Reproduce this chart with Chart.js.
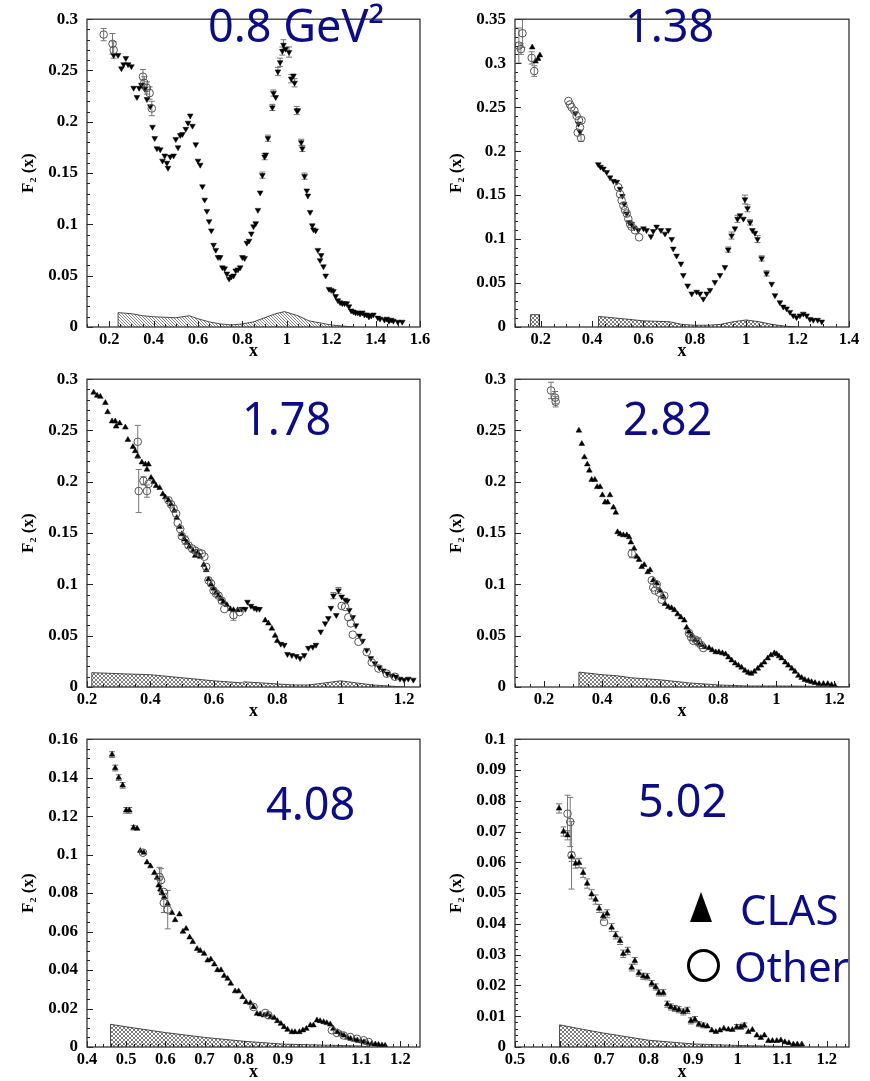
<!DOCTYPE html>
<html><head><meta charset="utf-8">
<script src="https://cdn.jsdelivr.net/npm/chart.js@4.4.0/dist/chart.umd.min.js"></script>
<style>
html,body{margin:0;padding:0;background:#fff;width:870px;height:1081px;overflow:hidden;position:relative;}
.pane{position:absolute;}
.lbl{position:absolute;font-family:'Noto Sans';color:#0c0c84;white-space:nowrap;line-height:45px;font-size:45px;}
.lg{font-size:42px;line-height:42px;}
</style></head><body>
<div class="pane" style="left:0;top:0"><canvas id="c1" width="435" height="360"></canvas></div>
<div class="pane" style="left:435px;top:0"><canvas id="c2" width="435" height="360"></canvas></div>
<div class="pane" style="left:0;top:360px"><canvas id="c3" width="435" height="360"></canvas></div>
<div class="pane" style="left:435px;top:360px"><canvas id="c4" width="435" height="360"></canvas></div>
<div class="pane" style="left:0;top:720px"><canvas id="c5" width="435" height="361"></canvas></div>
<div class="pane" style="left:435px;top:720px"><canvas id="c6" width="435" height="361"></canvas></div>

<div class="lbl" style="left:208px;top:2px">0.8 GeV²</div>
<div class="lbl" style="left:625px;top:2px">1.38</div>
<div class="lbl" style="left:242px;top:395px">1.78</div>
<div class="lbl" style="left:623px;top:395px">2.82</div>
<div class="lbl" style="left:266px;top:780px">4.08</div>
<div class="lbl" style="left:638px;top:777px">5.02</div>
<div style="position:absolute;left:690px;top:892px;width:0;height:0;border-left:11.5px solid transparent;border-right:11.5px solid transparent;border-bottom:30px solid #000;"></div>
<div class="lbl lg" style="left:740px;top:888px">CLAS</div>
<div style="position:absolute;left:687px;top:949px;width:33px;height:33px;box-sizing:border-box;border:3.5px solid #000;border-radius:50%;"></div>
<div class="lbl lg" style="left:734px;top:945px">Other</div>

<script>
// ---------------- DATA ----------------
// Q2 = 0.8 GeV2
const q1Clas = [[0.22,0.265],[0.24,0.265],[0.255,0.252],[0.265,0.256],[0.275,0.262],[0.285,0.256],[0.30,0.254],[0.31,0.233],[0.325,0.224],[0.335,0.233],[0.345,0.236],[0.36,0.232],[0.37,0.222],[0.385,0.215],[0.395,0.195],[0.405,0.184],[0.415,0.174],[0.43,0.173],[0.44,0.162],[0.45,0.167],[0.46,0.160],[0.465,0.155],[0.475,0.166],[0.49,0.167],[0.50,0.183],[0.51,0.175],[0.52,0.187],[0.53,0.188],[0.545,0.193],[0.555,0.199],[0.565,0.206],[0.575,0.196],[0.59,0.178],[0.60,0.162],[0.61,0.158],[0.62,0.137],[0.63,0.124],[0.64,0.113],[0.65,0.103],[0.66,0.094],[0.67,0.080],[0.68,0.075],[0.69,0.068],[0.70,0.068],[0.71,0.058],[0.72,0.057],[0.73,0.052],[0.74,0.047],[0.75,0.049],[0.76,0.050],[0.77,0.055],[0.78,0.056],[0.79,0.058],[0.80,0.068],[0.81,0.067],[0.82,0.082],[0.83,0.084],[0.84,0.091],[0.85,0.098],[0.86,0.101],[0.87,0.114],[0.88,0.131],[0.89,0.148,0.003],[0.90,0.166,0.003],[0.905,0.168],[0.915,0.184,0.003],[0.935,0.214,0.003],[0.94,0.228,0.003],[0.95,0.224],[0.96,0.249,0.004],[0.97,0.258,0.004],[0.98,0.269,0.004],[0.985,0.275,0.005],[0.995,0.271],[1.01,0.268,0.005],[1.02,0.242,0.004],[1.03,0.245],[1.035,0.238,0.004],[1.045,0.211,0.004],[1.05,0.211],[1.065,0.180,0.003],[1.07,0.174,0.003],[1.08,0.147,0.003],[1.09,0.133],[1.095,0.128],[1.105,0.112],[1.115,0.099],[1.12,0.095],[1.13,0.094],[1.14,0.075],[1.15,0.065],[1.155,0.070],[1.165,0.059],[1.175,0.050],[1.19,0.037],[1.20,0.036],[1.21,0.035],[1.22,0.030],[1.23,0.026],[1.24,0.024],[1.25,0.023],[1.26,0.023],[1.27,0.023],[1.28,0.020],[1.29,0.016],[1.30,0.015],[1.31,0.014],[1.32,0.014],[1.33,0.013],[1.34,0.014],[1.35,0.012],[1.36,0.012],[1.37,0.010],[1.38,0.011],[1.39,0.012],[1.41,0.009],[1.42,0.008],[1.44,0.007],[1.45,0.008],[1.46,0.006],[1.47,0.007],[1.48,0.006],[1.50,0.005],[1.52,0.005]];
const q1Other = [[0.175,0.285,0.006],[0.215,0.276,0.010],[0.22,0.270,0.008],[0.352,0.244,0.007],[0.358,0.238,0.006],[0.37,0.233,0.006],[0.382,0.228,0.006],[0.392,0.213,0.007]];
const q1Sys = [[0.24,0.014],[0.3,0.013],[0.35,0.011],[0.4,0.010],[0.5,0.009],[0.56,0.011],[0.6,0.008],[0.65,0.005],[0.7,0.003],[0.75,0.002],[0.8,0.003],[0.85,0.005],[0.9,0.009],[0.95,0.013],[0.99,0.015],[1.05,0.011],[1.1,0.006],[1.15,0.004],[1.2,0.002],[1.25,0.001],[1.3,0]];
const q1XTicks = [0.2,0.4,0.6,0.8,1,1.2,1.4,1.6];
const q1YTicks = [0,0.05,0.1,0.15,0.2,0.25,0.3];

// Q2 = 1.38
const q2ClasUp = [[0.167,0.318],[0.18,0.302],[0.19,0.305],[0.197,0.309]];
const q2ClasDown = [[0.335,0.243],[0.347,0.231],[0.353,0.222],[0.424,0.185],[0.433,0.182],[0.444,0.180],[0.457,0.176],[0.47,0.170],[0.483,0.166],[0.496,0.165],[0.509,0.157],[0.518,0.149],[0.525,0.140],[0.535,0.129],[0.544,0.119],[0.554,0.117],[0.564,0.113],[0.58,0.110],[0.6,0.112],[0.612,0.110],[0.629,0.103],[0.638,0.109],[0.651,0.114],[0.668,0.110],[0.684,0.106],[0.697,0.110],[0.71,0.100],[0.716,0.089],[0.729,0.081],[0.746,0.072],[0.755,0.059],[0.772,0.047],[0.788,0.038],[0.807,0.040],[0.82,0.038],[0.833,0.032],[0.846,0.038],[0.859,0.042],[0.878,0.051],[0.898,0.059],[0.917,0.068],[0.93,0.088,0.003],[0.943,0.104,0.004],[0.956,0.112],[0.966,0.123,0.004],[0.976,0.127],[0.989,0.123],[0.995,0.145,0.005],[1.005,0.135,0.004],[1.015,0.119,0.003],[1.024,0.110],[1.034,0.107],[1.044,0.100,0.004],[1.06,0.078,0.003],[1.079,0.061,0.003],[1.099,0.049],[1.112,0.036],[1.131,0.028],[1.144,0.023],[1.157,0.021],[1.17,0.017],[1.183,0.013],[1.196,0.011],[1.209,0.013],[1.222,0.015],[1.235,0.013],[1.248,0.009],[1.261,0.008],[1.278,0.008],[1.294,0.006]];
const q2Other = [[0.115,0.320,0.020],[0.123,0.316,0.006],[0.129,0.334,0.016],[0.165,0.306,0.007],[0.175,0.291,0.006],[0.308,0.257],[0.314,0.253],[0.32,0.250],[0.331,0.246],[0.34,0.240],[0.349,0.235],[0.359,0.235],[0.353,0.227],[0.357,0.215,0.004],[0.344,0.221],[0.502,0.159],[0.509,0.151],[0.515,0.144],[0.522,0.138],[0.528,0.133],[0.535,0.129],[0.541,0.123],[0.548,0.117],[0.554,0.114],[0.567,0.110],[0.583,0.102]];
const q2Sys = [[0.425,0.012],[0.5,0.010],[0.6,0.007],[0.7,0.006],[0.75,0.003],[0.8,0.002],[0.85,0.002],[0.9,0.003],[0.95,0.006],[1.0,0.008],[1.05,0.006],[1.1,0.003],[1.15,0.001],[1.2,0]];
const q2SysLow = [[0.16,0.014],[0.195,0.014]];
const q2XTicks = [0.2,0.4,0.6,0.8,1,1.2,1.4];
const q2YTicks = [0,0.05,0.1,0.15,0.2,0.25,0.3,0.35];

// Q2 = 1.78
const q3ClasUp = [[0.221,0.287],[0.232,0.284],[0.242,0.283],[0.258,0.277],[0.265,0.268],[0.279,0.259],[0.289,0.259],[0.292,0.254],[0.303,0.257],[0.321,0.253],[0.329,0.241],[0.345,0.234],[0.352,0.230],[0.36,0.225],[0.373,0.219],[0.384,0.217],[0.389,0.212],[0.394,0.217],[0.402,0.204],[0.41,0.200],[0.418,0.196],[0.429,0.194],[0.439,0.188],[0.447,0.185],[0.457,0.182],[0.465,0.178],[0.475,0.172],[0.483,0.165],[0.492,0.156],[0.499,0.149],[0.507,0.144],[0.515,0.141],[0.523,0.137],[0.534,0.133],[0.541,0.128],[0.549,0.131],[0.557,0.127],[0.568,0.119],[0.576,0.114],[0.583,0.105],[0.591,0.100],[0.599,0.096],[0.607,0.092],[0.615,0.089],[0.622,0.086],[0.63,0.083],[0.641,0.080],[0.652,0.076],[0.662,0.075],[0.675,0.075],[0.762,0.065],[0.772,0.062],[0.783,0.057],[0.793,0.050],[0.80,0.045]];
const q3ClasDown = [[0.688,0.076],[0.699,0.076],[0.706,0.083],[0.717,0.079],[0.727,0.077],[0.735,0.076],[0.744,0.076],[0.811,0.042],[0.822,0.041],[0.832,0.032],[0.846,0.031],[0.86,0.030],[0.872,0.028],[0.885,0.031],[0.898,0.038],[0.912,0.039],[0.922,0.041],[0.937,0.054],[0.951,0.062],[0.961,0.067],[0.969,0.077],[0.977,0.089,0.003],[0.986,0.070],[0.993,0.094,0.003],[1.003,0.088],[1.014,0.085],[1.021,0.084],[1.027,0.075],[1.038,0.068],[1.048,0.060],[1.059,0.050],[1.069,0.045],[1.082,0.036],[1.095,0.028],[1.108,0.023],[1.122,0.019],[1.134,0.016],[1.147,0.013],[1.161,0.011],[1.174,0.010],[1.187,0.008],[1.2,0.007],[1.213,0.008],[1.229,0.007]];
const q3Other = [[0.36,0.239,0.016],[0.363,0.191,0.021],[0.378,0.201,0.004],[0.389,0.191,0.006],[0.394,0.198],[0.457,0.182],[0.465,0.178],[0.473,0.174],[0.481,0.169],[0.486,0.160],[0.494,0.154],[0.499,0.147],[0.51,0.143,0.004],[0.52,0.138],[0.531,0.135],[0.541,0.133],[0.552,0.131],[0.562,0.130],[0.57,0.127],[0.576,0.117],[0.583,0.104],[0.591,0.101],[0.599,0.094],[0.607,0.091],[0.615,0.089],[0.625,0.084],[0.633,0.076],[0.662,0.070,0.005],[0.681,0.073],[1.003,0.079],[1.014,0.078],[1.024,0.068],[1.032,0.062],[1.038,0.051],[1.056,0.044],[1.082,0.034],[1.098,0.024],[1.119,0.018],[1.145,0.013],[1.171,0.010]];
const q3Sys = [[0.215,0.014],[0.3,0.013],[0.4,0.012],[0.5,0.009],[0.6,0.006],[0.69,0.004],[0.695,0.005],[0.75,0.004],[0.8,0.003],[0.85,0.002],[0.9,0.002],[0.95,0.004],[1.0,0.006],[1.05,0.004],[1.1,0.002],[1.15,0.001],[1.2,0]];
const q3XTicks = [0.2,0.4,0.6,0.8,1,1.2];
const q3YTicks = [0,0.05,0.1,0.15,0.2,0.25,0.3];

// Q2 = 2.82
const q4Clas = [[0.32,0.250],[0.33,0.237],[0.339,0.224],[0.349,0.217],[0.356,0.211],[0.364,0.202],[0.375,0.202],[0.383,0.195],[0.393,0.195],[0.401,0.187],[0.41,0.180],[0.419,0.180],[0.427,0.187],[0.439,0.175],[0.447,0.170],[0.453,0.151],[0.462,0.149],[0.473,0.148],[0.485,0.148],[0.493,0.146],[0.499,0.141],[0.51,0.135],[0.519,0.127],[0.527,0.124],[0.536,0.117],[0.545,0.119],[0.557,0.112],[0.565,0.114],[0.576,0.104],[0.588,0.101],[0.599,0.094],[0.611,0.088],[0.616,0.081],[0.628,0.078],[0.639,0.077],[0.649,0.075],[0.66,0.071],[0.671,0.068],[0.683,0.065],[0.691,0.058],[0.699,0.054],[0.708,0.050],[0.72,0.046],[0.731,0.043],[0.743,0.041],[0.754,0.039],[0.768,0.038],[0.779,0.036],[0.791,0.034],[0.802,0.034],[0.814,0.033],[0.825,0.032],[0.835,0.029],[0.846,0.026],[0.858,0.023],[0.869,0.021],[0.88,0.019],[0.892,0.016],[0.903,0.014],[0.913,0.013],[0.924,0.015],[0.936,0.018],[0.947,0.021],[0.958,0.024],[0.97,0.028],[0.981,0.031],[0.993,0.033],[1.001,0.032],[1.009,0.030],[1.018,0.028],[1.03,0.024],[1.041,0.021],[1.053,0.018],[1.064,0.015],[1.076,0.011],[1.087,0.009],[1.098,0.007],[1.11,0.006],[1.121,0.005],[1.133,0.004],[1.147,0.003],[1.162,0.003],[1.177,0.003],[1.19,0.002],[1.202,0.001]];
const q4Other = [[0.224,0.289,0.008],[0.238,0.282,0.006],[0.24,0.278,0.005],[0.502,0.130,0.004],[0.571,0.104],[0.576,0.097],[0.582,0.094],[0.588,0.100],[0.596,0.092],[0.605,0.085],[0.614,0.089],[0.699,0.0525],[0.706,0.0487,0.003],[0.714,0.045],[0.722,0.046],[0.731,0.044,0.004],[0.74,0.041],[0.748,0.038]];
const q4Sys = [[0.32,0.0145],[0.4,0.012],[0.45,0.011],[0.5,0.009],[0.6,0.007],[0.7,0.004],[0.8,0.002],[0.9,0.001],[1.0,0.001],[1.1,0.0008],[1.2,0.0003],[1.25,0]];
const q4XTicks = [0.2,0.4,0.6,0.8,1,1.2];
const q4YTicks = [0,0.05,0.1,0.15,0.2,0.25,0.3];

// Q2 = 4.08
const q5Clas = [[0.464,0.152,0.0015],[0.472,0.145,0.0015],[0.481,0.140,0.0015],[0.491,0.136,0.0015],[0.50,0.123,0.0015],[0.508,0.123,0.0015],[0.519,0.114,0.0012],[0.528,0.1135],[0.536,0.102],[0.545,0.101],[0.553,0.096],[0.562,0.094],[0.572,0.0905],[0.579,0.088],[0.583,0.084],[0.587,0.082],[0.591,0.080],[0.597,0.078],[0.606,0.0745],[0.617,0.0697],[0.625,0.066],[0.636,0.069],[0.645,0.060],[0.653,0.0615],[0.662,0.057],[0.67,0.0546],[0.681,0.051],[0.689,0.050],[0.699,0.0485],[0.708,0.045],[0.716,0.0456],[0.725,0.043],[0.733,0.040],[0.742,0.040],[0.75,0.037],[0.759,0.0355],[0.767,0.033],[0.778,0.029],[0.787,0.029],[0.797,0.026],[0.806,0.0234],[0.817,0.0229],[0.825,0.0208],[0.834,0.0173],[0.842,0.017],[0.852,0.0165],[0.861,0.017],[0.869,0.0156],[0.878,0.0151],[0.886,0.0135],[0.895,0.0121],[0.903,0.0104],[0.912,0.009],[0.923,0.0078],[0.931,0.0078],[0.942,0.0078],[0.951,0.0087],[0.96,0.0095],[0.97,0.0113],[0.978,0.0113],[0.987,0.0139],[0.995,0.0135],[1.004,0.013],[1.012,0.0125],[1.021,0.0118],[1.029,0.0095],[1.039,0.0078],[1.048,0.0069],[1.056,0.006],[1.065,0.0049],[1.073,0.0043],[1.082,0.0038],[1.09,0.0035],[1.099,0.0031],[1.107,0.0026],[1.116,0.0021],[1.127,0.0017],[1.136,0.0014],[1.144,0.0012],[1.153,0.0009],[1.161,0.0007]];
const q5Other = [[0.543,0.101],[0.585,0.0884,0.005],[0.589,0.0867,0.006],[0.596,0.0806],[0.596,0.0749,0.005],[0.606,0.0714,0.010],[0.825,0.0208],[0.855,0.0177],[0.863,0.0165],[1.025,0.0087],[1.038,0.0073],[1.055,0.006],[1.072,0.0052],[1.089,0.0043],[1.106,0.0035],[1.119,0.0026]];
const q5Sys = [[0.46,0.0118],[0.5,0.0105],[0.6,0.0075],[0.7,0.005],[0.8,0.003],[0.9,0.0015],[1.0,0.001],[1.1,0.0005],[1.12,0]];
const q5XTicks = [0.4,0.5,0.6,0.7,0.8,0.9,1,1.1,1.2];
const q5YTicks = [0,0.02,0.04,0.06,0.08,0.1,0.12,0.14,0.16];

// Q2 = 5.02
const q6Clas = [[0.599,0.0775,0.0015],[0.609,0.070,0.0015],[0.618,0.0688,0.0015],[0.627,0.0618,0.0015],[0.636,0.0596,0.0015],[0.644,0.0598,0.0015],[0.653,0.0566,0.0015],[0.662,0.0531,0.0015],[0.672,0.0496,0.0015],[0.681,0.0479,0.0015],[0.689,0.045,0.0013],[0.698,0.0425,0.0013],[0.707,0.0433,0.0013],[0.717,0.0388,0.0013],[0.726,0.0363,0.0012],[0.736,0.0345,0.0012],[0.743,0.0303,0.0012],[0.753,0.0312,0.0012],[0.762,0.0258,0.0011],[0.769,0.028,0.0011],[0.778,0.024,0.001],[0.788,0.023,0.001],[0.797,0.0228,0.001],[0.807,0.0206,0.001],[0.816,0.0195,0.001],[0.823,0.0176,0.001],[0.833,0.0176,0.001],[0.842,0.0139,0.001],[0.85,0.013,0.001],[0.859,0.0125,0.001],[0.868,0.0121,0.001],[0.878,0.0114,0.001],[0.887,0.0119,0.001],[0.895,0.0085,0.001],[0.904,0.0089,0.001],[0.913,0.0074,0.0008],[0.923,0.007,0.0008],[0.932,0.0067],[0.942,0.0054],[0.951,0.0049],[0.96,0.0054],[0.969,0.006],[0.979,0.0057],[0.988,0.0056],[0.998,0.0065,0.0008],[1.007,0.0065,0.0008],[1.015,0.007,0.0008],[1.024,0.0049],[1.033,0.0056],[1.043,0.0038],[1.052,0.003],[1.06,0.0038],[1.069,0.002],[1.078,0.002],[1.088,0.002],[1.097,0.0022],[1.106,0.0016],[1.115,0.0013],[1.125,0.0009],[1.134,0.0009],[1.144,0.0009]];
const q6Other = [[0.618,0.0758,0.006],[0.624,0.0731,0.008],[0.627,0.0623,0.011],[0.70,0.0406]];
const q6Sys = [[0.6,0.0072],[0.65,0.0058],[0.7,0.0045],[0.8,0.0022],[0.9,0.001],[1.0,0.0005],[1.1,0.0002],[1.15,0]];
const q6XTicks = [0.5,0.6,0.7,0.8,0.9,1,1.1,1.2];
const q6YTicks = [0,0.01,0.02,0.03,0.04,0.05,0.06,0.07,0.08,0.09,0.1];

// ---------------- HELPERS ----------------
function hatch(cross){
  const n = cross ? 4 : 3;
  const c=document.createElement('canvas'); c.width=n; c.height=n;
  const g=c.getContext('2d');
  g.strokeStyle = cross ? '#5a5a5a' : '#6a6a6a'; g.lineWidth=0.8;
  g.beginPath();
  g.moveTo(-1,-1); g.lineTo(n+1,n+1);
  if(cross){ g.moveTo(-1,n+1); g.lineTo(n+1,-1); }
  g.stroke();
  return g.createPattern(c,'repeat');
}
const pts = arr => arr.map(p=>({x:p[0],y:p[1]}));
const errs = arr => arr.map(p=>p[2]||0);
function sysPts(arr){
  const a = pts(arr);
  return [{x:arr[0][0],y:0}].concat(a,[{x:arr[arr.length-1][0],y:0}]);
}
function clasDS(arr, down){
  return {data:pts(arr), errs:errs(arr), pointStyle:'triangle', pointRotation: down?180:0,
    pointRadius:3.3, backgroundColor:'#000', borderColor:'#000', borderWidth:0.5, order:1};
}
function otherDS(arr){
  return {data:pts(arr), errs:errs(arr), pointStyle:'circle', pointRadius:3.8,
    backgroundColor:'rgba(0,0,0,0)', borderColor:'#555', borderWidth:1, order:0};
}
function sysDS(arr, cross){
  return {type:'line', data:sysPts(arr), showLine:true, fill:'origin', pointRadius:0,
    borderColor:'#222', borderWidth:0.8, backgroundColor:hatch(cross), tension:0, order:5};
}
const fmt = v => String(parseFloat(Number(v).toFixed(4)));

const errPlugin = {
  id:'errbars',
  beforeDatasetsDraw(chart){
    const ctx=chart.ctx, y=chart.scales.y, a=chart.chartArea;
    ctx.save();
    ctx.beginPath(); ctx.rect(a.left,a.top,a.width,a.height); ctx.clip();
    ctx.strokeStyle='#777'; ctx.lineWidth=1;
    chart.data.datasets.forEach((ds,i)=>{
      if(!ds.errs) return;
      const meta=chart.getDatasetMeta(i);
      meta.data.forEach((el,j)=>{
        const e=ds.errs[j]; if(!e) return;
        const v=ds.data[j].y;
        const y1=y.getPixelForValue(v-e), y2=y.getPixelForValue(v+e), px=el.x;
        ctx.beginPath();
        ctx.moveTo(px,y1); ctx.lineTo(px,y2);
        ctx.moveTo(px-3,y1); ctx.lineTo(px+3,y1);
        ctx.moveTo(px-3,y2); ctx.lineTo(px+3,y2);
        ctx.stroke();
      });
    });
    ctx.restore();
  }
};
const framePlugin = {
  id:'frameTicks',
  afterDraw(chart){
    const o=chart.options.plugins.frameTicks;
    const ctx=chart.ctx, a=chart.chartArea, x=chart.scales.x, y=chart.scales.y;
    ctx.save();
    ctx.strokeStyle='#222'; ctx.lineWidth=1;
    ctx.beginPath();
    const nx=Math.round((x.max-x.min)/o.xMinor);
    const x0=Math.ceil(x.min/o.xMinor-1e-6)*o.xMinor;
    for(let k=0;k<=nx+1;k++){
      const v=x0+k*o.xMinor; if(v>x.max+1e-9) break;
      const px=Math.round(x.getPixelForValue(v))+0.5;
      const major=x.ticks.some(t=>Math.abs(t.value-v)<1e-6);
      ctx.moveTo(px,a.bottom); ctx.lineTo(px,a.bottom-(major?6:3));
    }
    const ny=Math.round((y.max-y.min)/o.yMinor);
    for(let k=0;k<=ny;k++){
      const v=y.min+k*o.yMinor;
      const py=Math.round(y.getPixelForValue(v))+0.5;
      const major=y.ticks.some(t=>Math.abs(t.value-v)<1e-7);
      ctx.moveTo(a.left,py); ctx.lineTo(a.left+(major?6:3),py);
    }
    ctx.stroke();
    ctx.lineWidth=1.3; ctx.strokeStyle='#333';
    ctx.strokeRect(a.left,a.top,a.right-a.left,a.bottom-a.top);
    ctx.restore();
  }
};

function makeChart(id, c){
  return new Chart(document.getElementById(id), {
    type:'scatter',
    data:{datasets:c.datasets},
    options:{
      responsive:false, animation:false, events:[],
      layout:{padding:{top:c.top,right:c.right,left:0,bottom:0}},
      plugins:{legend:{display:false}, tooltip:{enabled:false}, frameTicks:{xMinor:c.xMinor,yMinor:c.yMinor}},
      scales:{
        x:{type:'linear', min:c.xMin, max:c.xMax,
          afterBuildTicks:s=>{s.ticks=c.xTicks.map(v=>({value:v}));},
          afterFit:s=>{s.height=c.bottomH;},
          grid:{display:false, drawTicks:false}, border:{display:false},
          ticks:{font:{family:'Liberation Serif', weight:'bold', size:16.5}, color:'#000', padding:3, maxRotation:0, autoSkip:false, callback:fmt},
          title:{display:true, text:'x', color:'#000', font:{family:'Liberation Serif', weight:'bold', size:18, lineHeight:1}, padding:0}},
        y:{type:'linear', min:0, max:c.yMax,
          afterBuildTicks:s=>{s.ticks=c.yTicks.map(v=>({value:v}));},
          afterFit:s=>{s.width=c.leftW;},
          grid:{display:false, drawTicks:false}, border:{display:false},
          ticks:{font:{family:'Liberation Serif', weight:'bold', size:17}, color:'#000', padding:9, autoSkip:false, callback:fmt},
          title:{display:true, text:'F₂ (x)', color:'#000', font:{family:'Liberation Serif', weight:'bold', size:17, lineHeight:1.2}, padding:{top:c.ytp,bottom:0}}}
      }
    },
    plugins:[errPlugin, framePlugin]
  });
}

makeChart('c1',{top:18,right:15,leftW:87,bottomH:33,ytp:18,xMin:0.1,xMax:1.6,yMax:0.3,xTicks:q1XTicks,yTicks:q1YTicks,xMinor:0.05,yMinor:0.01,
  datasets:[otherDS(q1Other), clasDS(q1Clas,true), sysDS(q1Sys,false)]});
makeChart('c2',{top:18,right:21,leftW:80,bottomH:33,ytp:11,xMin:0.1,xMax:1.4,yMax:0.35,xTicks:q2XTicks,yTicks:q2YTicks,xMinor:0.05,yMinor:0.01,
  datasets:[otherDS(q2Other), clasDS(q2ClasUp,false), clasDS(q2ClasDown,true), sysDS(q2Sys,true), sysDS(q2SysLow,true)]});
makeChart('c3',{top:18,right:15,leftW:87,bottomH:33,ytp:18,xMin:0.2,xMax:1.25,yMax:0.3,xTicks:q3XTicks,yTicks:q3YTicks,xMinor:0.05,yMinor:0.01,
  datasets:[otherDS(q3Other), clasDS(q3ClasUp,false), clasDS(q3ClasDown,true), sysDS(q3Sys,true)]});
makeChart('c4',{top:18,right:21,leftW:80,bottomH:33,ytp:11,xMin:0.1,xMax:1.25,yMax:0.3,xTicks:q4XTicks,yTicks:q4YTicks,xMinor:0.05,yMinor:0.01,
  datasets:[otherDS(q4Other), clasDS(q4Clas,false), sysDS(q4Sys,true)]});
makeChart('c5',{top:19,right:15,leftW:87,bottomH:34,ytp:18,xMin:0.4,xMax:1.25,yMax:0.16,xTicks:q5XTicks,yTicks:q5YTicks,xMinor:0.02,yMinor:0.005,
  datasets:[otherDS(q5Other), clasDS(q5Clas,false), sysDS(q5Sys,true)]});
makeChart('c6',{top:19,right:21,leftW:80,bottomH:34,ytp:11,xMin:0.5,xMax:1.25,yMax:0.1,xTicks:q6XTicks,yTicks:q6YTicks,xMinor:0.02,yMinor:0.002,
  datasets:[otherDS(q6Other), clasDS(q6Clas,false), sysDS(q6Sys,true)]});
</script>
</body></html>
